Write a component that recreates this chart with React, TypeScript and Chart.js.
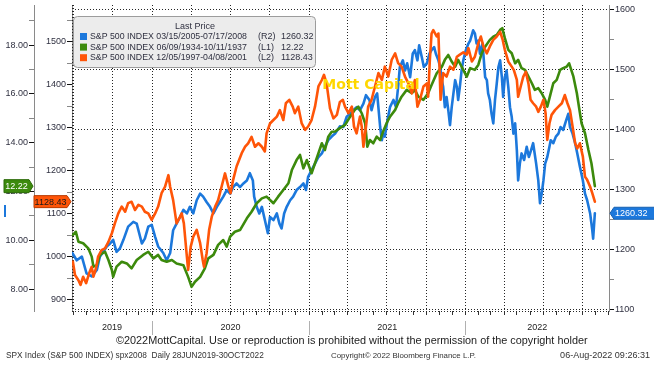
import React, { useEffect, useRef } from 'react';
import { Chart, registerables } from 'chart.js';

Chart.register(...registerables);

// x values are days since 28 Jun 2019 (start of the chart window)
const START_UTC = Date.UTC(2019, 5, 28);
const DAY_MS = 86400000;
const X_MAX_DAYS = 1253;

const seriesNames = [
  'S&P 500 INDEX 03/15/2005-07/17/2008',
  'S&P 500 INDEX 06/09/1934-10/11/1937',
  'S&P 500 INDEX 12/05/1997-04/08/2001',
];
const seriesAxes = ['(R2)', '(L1)', '(L2)'];
const seriesLast = ['1260.32', '12.22', '1128.43'];
const seriesColors = ['#1c78dc', '#3c8a0c', '#ff5508'];

const yearLabels = ['2019', '2020', '2021', '2022'];
const yearStarts = [2020, 2021, 2022, 2023];

const r2Ticks = [1100, 1150, 1200, 1250, 1300, 1350, 1400, 1450, 1500, 1550, 1600];
const l2Ticks = [900, 950, 1000, 1050, 1100, 1150, 1200, 1250, 1300, 1350, 1400, 1450, 1500, 1550];
const l1Ticks = [8, 9, 10, 11, 12, 13, 14, 15, 16, 17, 18, 19];

// Blue: S&P 500 2005-2008 (right axis R2)
const blueDays = [1,11,23,34,46,58,65,73,81,89,96,104,112,120,131,143,151,163,170,178,186,194,201,213,221,229,236,244,252,260,268,275,283,291,299,306,314,322,330,338,345,353,361,369,376,384,392,400,408,415,422,425,431,437,443,450,457,462,470,478,484,489,495,501,509,516,524,532,540,546,551,559,567,575,583,590,598,606,614,625,633,641,649,656,664,672,680,686,694,699,707,712,719,723,726,730,736,742,750,756,761,765,772,777,782,789,795,800,806,810,816,821,828,834,839,845,849,855,859,863,866,870,874,878,882,886,890,894,898,901,905,909,913,919,925,929,936,940,944,948,952,958,964,968,971,975,979,983,987,991,995,999,1003,1006,1010,1014,1018,1022,1026,1030,1034,1038,1041,1045,1049,1055,1061,1066,1071,1076,1083,1088,1092,1096,1100,1104,1109,1114,1117,1123,1129,1135,1140,1146,1153,1158,1162,1168,1174,1179,1185,1192,1197,1202,1209,1214,1216,1220];
const blueValues = [1194,1182,1188,1160,1155,1166,1188,1196,1205,1210,1216,1196,1202,1216,1238,1246,1243,1210,1218,1238,1241,1221,1205,1194,1182,1194,1232,1243,1254,1266,1260,1271,1260,1282,1293,1288,1279,1271,1260,1271,1279,1288,1299,1293,1304,1310,1304,1310,1315,1327,1315,1288,1271,1260,1271,1249,1227,1254,1249,1260,1243,1235,1260,1271,1282,1288,1299,1304,1310,1299,1321,1332,1343,1354,1360,1371,1382,1388,1393,1405,1404,1421,1426,1432,1437,1432,1443,1457,1449,1432,1454,1460,1404,1382,1393,1388,1415,1437,1449,1437,1471,1504,1515,1498,1510,1487,1526,1532,1515,1540,1521,1504,1510,1526,1532,1537,1526,1515,1504,1482,1471,1437,1454,1432,1407,1437,1460,1482,1471,1449,1471,1498,1515,1532,1543,1548,1565,1560,1543,1548,1526,1543,1487,1482,1460,1449,1426,1410,1449,1476,1504,1515,1487,1454,1487,1498,1471,1437,1421,1393,1410,1365,1315,1343,1360,1349,1371,1354,1365,1377,1343,1315,1277,1293,1315,1343,1354,1371,1382,1377,1388,1393,1404,1399,1415,1426,1404,1393,1377,1360,1338,1315,1293,1282,1260,1232,1218,1260.32];

// Green: S&P 500 1934-1937 (left axis L1)
const greenDays = [2,9,15,26,38,46,50,58,65,77,85,93,96,104,116,128,139,151,166,178,190,201,209,221,233,244,260,271,279,287,299,310,318,330,341,353,361,369,380,392,408,419,431,443,454,470,481,493,505,513,524,532,540,548,559,567,575,583,590,598,606,614,625,637,649,660,668,676,684,689,695,703,711,719,726,734,742,754,761,769,781,793,800,808,820,831,839,851,863,870,878,886,894,901,905,913,921,929,940,948,956,964,975,983,991,999,1004,1010,1018,1026,1034,1041,1049,1057,1065,1073,1080,1088,1096,1104,1109,1115,1123,1131,1139,1146,1154,1160,1170,1178,1184,1189,1197,1205,1212,1220];
const greenValues = [10.22,10.35,9.94,9.88,9.67,9.33,8.92,8.98,9.40,9.53,9.19,8.78,8.50,8.92,9.12,9.05,8.85,9.19,9.40,9.53,9.26,9.40,9.19,9.12,9.19,9.05,8.98,8.50,8.09,8.30,8.50,8.85,9.26,9.40,9.81,10.01,9.74,10.15,10.35,10.42,10.90,11.17,11.52,11.72,11.79,11.52,11.79,12.06,12.34,12.88,13.29,13.50,12.95,13.29,12.75,13.16,13.57,13.98,13.70,14.25,14.45,14.46,14.60,14.73,15.07,15.35,15.48,15.21,14.80,13.84,14.11,13.98,14.25,14.11,14.46,14.80,15.07,15.35,15.62,15.89,16.17,16.03,16.17,15.89,15.76,16.03,16.37,16.85,17.12,17.40,17.60,17.33,17.12,17.40,17.26,16.99,16.71,17.06,16.99,17.19,17.67,17.94,18.22,18.35,18.42,18.63,18.70,18.29,17.81,17.67,17.26,17.40,17.06,16.99,16.71,16.44,16.17,16.24,16.03,15.76,15.48,15.89,16.44,16.58,16.99,17.06,17.12,17.26,16.71,16.03,15.35,14.80,14.39,13.70,13.16,12.22];

// Orange: S&P 500 1997-2001 (left axis L2)
const orangeDays = [2,7,15,20,26,33,40,46,50,56,61,69,77,85,93,100,108,116,124,131,139,147,155,163,170,178,186,194,201,209,217,225,229,236,244,252,256,261,268,271,277,283,291,299,305,308,314,320,326,334,341,349,357,365,370,376,384,396,404,411,419,427,435,443,450,454,462,470,478,485,493,499,507,515,520,528,536,544,551,559,567,575,583,588,594,602,610,618,625,632,637,645,653,658,664,672,676,680,686,691,699,707,715,723,730,738,746,754,761,769,777,785,793,800,806,812,820,828,831,835,839,843,851,855,860,866,874,882,890,898,905,913,921,925,933,940,948,954,960,968,975,983,991,999,1005,1010,1018,1026,1031,1038,1041,1047,1053,1059,1065,1070,1076,1083,1088,1094,1100,1105,1109,1114,1119,1127,1135,1143,1150,1156,1162,1168,1174,1179,1185,1192,1197,1202,1209,1214,1220];
const orangeValues = [989,958,946,935,954,939,962,977,954,974,1001,1016,1020,1035,1055,1078,1101,1117,1105,1125,1128,1109,1121,1117,1105,1101,1086,1101,1117,1148,1163,1190,1163,1132,1078,1093,1101,1078,1001,970,1024,1047,1063,1032,993,977,1008,1063,1093,1117,1132,1163,1194,1163,1148,1179,1210,1241,1256,1264,1279,1256,1264,1256,1245,1287,1310,1318,1326,1341,1318,1357,1365,1349,1334,1349,1310,1295,1303,1318,1349,1396,1411,1423,1403,1345,1322,1330,1360,1365,1349,1334,1349,1303,1287,1326,1303,1256,1303,1349,1365,1396,1427,1411,1442,1419,1458,1473,1450,1442,1419,1403,1380,1411,1349,1365,1396,1403,1372,1458,1519,1527,1512,1519,1365,1427,1419,1442,1435,1465,1470,1475,1470,1485,1454,1465,1496,1512,1489,1473,1489,1504,1512,1523,1504,1481,1454,1442,1434,1411,1372,1396,1419,1430,1403,1365,1357,1349,1337,1349,1365,1334,1272,1310,1330,1341,1349,1357,1376,1357,1341,1303,1264,1252,1264,1233,1186,1179,1163,1148,1128.43];

const monthTicks: number[] = [];
const quarterTicks = new Set<number>();
for (let y = 2019; y <= 2023; y++) {
  for (let m = 0; m < 12; m++) {
    const d = (Date.UTC(y, m, 1) - START_UTC) / DAY_MS;
    if (d >= 0 && d <= X_MAX_DAYS) {
      monthTicks.push(d);
      if (m % 3 === 0) quarterTicks.add(d);
    }
  }
}

const FONT = '"Liberation Sans", Arial, sans-serif';
const TEXT = '#2f3040';
const GRID = '#262626';

function toPoints(xs: number[], ys: number[]) {
  return xs.map((x, i) => ({ x, y: ys[i] }));
}

function yAxis(position: string, min: number, max: number, ticks: number[], width: number, weight: number,
  label: (v: number) => string, isMajor: (v: number) => boolean, gridOn: boolean) {
  return {
    type: 'linear',
    position,
    min,
    max,
    weight,
    afterBuildTicks: (s: any) => { s.ticks = ticks.map((v) => ({ value: v })); },
    afterFit: (s: any) => { s.width = width; s.paddingTop = 0; s.paddingBottom = 0; },
    ticks: {
      autoSkip: false,
      padding: 1,
      color: TEXT,
      font: { family: FONT, size: 9 },
      callback: (v: any) => label(Number(v)),
    },
    grid: {
      drawOnChartArea: gridOn,
      lineWidth: 1,
      color: (c: any) => (c.tick && isMajor(c.tick.value) ? GRID : 'rgba(0,0,0,0)'),
      tickColor: (c: any) => (c.tick && isMajor(c.tick.value) ? '#111' : '#888'),
      tickLength: 5,
      tickWidth: 1,
    },
    border: { display: true, color: '#8a8a8a', width: 1, dash: [1, 2] },
  };
}

function fitText(ctx: CanvasRenderingContext2D, text: string, x: number, y: number, w: number, weight: string, align: CanvasTextAlign) {
  ctx.font = `${weight} 10px ${FONT}`;
  const mw = ctx.measureText(text).width;
  const size = (10 * w) / mw;
  ctx.font = `${weight} ${size.toFixed(2)}px ${FONT}`;
  ctx.textAlign = align;
  ctx.fillText(text, x, y);
}

function drawTag(ctx: CanvasRenderingContext2D, text: string, tipX: number, y: number, dir: number,
  bodyW: number, h: number, bg: string, fg: string, stroke: string) {
  ctx.save();
  ctx.beginPath();
  if (dir > 0) {
    const x2 = tipX - 4;
    const x1 = x2 - bodyW;
    ctx.moveTo(x1, y - h / 2);
    ctx.lineTo(x2, y - h / 2);
    ctx.lineTo(tipX, y);
    ctx.lineTo(x2, y + h / 2);
    ctx.lineTo(x1, y + h / 2);
    ctx.closePath();
    ctx.fillStyle = bg;
    ctx.fill();
    ctx.strokeStyle = stroke;
    ctx.lineWidth = 1;
    ctx.stroke();
    ctx.fillStyle = fg;
    ctx.font = `9px ${FONT}`;
    ctx.textAlign = 'center';
    ctx.textBaseline = 'middle';
    ctx.fillText(text, (x1 + x2) / 2, y + 0.5);
  } else {
    const x1 = tipX + 4;
    const x2 = x1 + bodyW;
    ctx.moveTo(x2, y - h / 2);
    ctx.lineTo(x1, y - h / 2);
    ctx.lineTo(tipX, y);
    ctx.lineTo(x1, y + h / 2);
    ctx.lineTo(x2, y + h / 2);
    ctx.closePath();
    ctx.fillStyle = bg;
    ctx.fill();
    ctx.strokeStyle = stroke;
    ctx.lineWidth = 1;
    ctx.stroke();
    ctx.fillStyle = fg;
    ctx.font = `9px ${FONT}`;
    ctx.textAlign = 'left';
    ctx.textBaseline = 'middle';
    ctx.fillText(text, x1 + 1, y + 0.5);
  }
  ctx.restore();
}

const overlayPlugin = {
  id: 'overlay',
  beforeDatasetsDraw(chart: any) {
    const { ctx, chartArea } = chart;
    ctx.save();
    ctx.strokeStyle = GRID;
    ctx.setLineDash([1, 2]);
    ctx.lineWidth = 1;
    ctx.beginPath();
    ctx.moveTo(Math.round(chartArea.left) + 0.5, chartArea.top);
    ctx.lineTo(Math.round(chartArea.left) + 0.5, chartArea.bottom);
    ctx.moveTo(chartArea.left, Math.round(chartArea.bottom) + 0.5);
    ctx.lineTo(chartArea.right, Math.round(chartArea.bottom) + 0.5);
    ctx.stroke();
    ctx.restore();
  },
  afterDraw(chart: any) {
    const { ctx, chartArea, scales } = chart;
    ctx.save();

    // watermark
    ctx.font = `bold 14px "DejaVu Sans", ${FONT}`;
    ctx.fillStyle = '#ffd700';
    ctx.textAlign = 'center';
    ctx.textBaseline = 'middle';
    ctx.fillText('Mott Capital', 371, 85);

    // legend box
    const lx = 73.5, ly = 16.5, lw = 242, lh = 51, r = 4;
    ctx.beginPath();
    ctx.moveTo(lx + r, ly);
    ctx.arcTo(lx + lw, ly, lx + lw, ly + lh, r);
    ctx.arcTo(lx + lw, ly + lh, lx, ly + lh, r);
    ctx.arcTo(lx, ly + lh, lx, ly, r);
    ctx.arcTo(lx, ly, lx + lw, ly, r);
    ctx.closePath();
    ctx.fillStyle = '#ececec';
    ctx.fill();
    ctx.strokeStyle = '#9c9c9c';
    ctx.lineWidth = 1;
    ctx.stroke();
    ctx.fillStyle = TEXT;
    ctx.textBaseline = 'middle';
    ctx.font = `9px ${FONT}`;
    ctx.textAlign = 'center';
    ctx.fillText('Last Price', 195, 27);
    for (let i = 0; i < seriesNames.length; i++) {
      const y = 36.5 + i * 10.6;
      ctx.fillStyle = seriesColors[i];
      ctx.fillRect(80, y - 3.5, 7, 7);
      ctx.fillStyle = TEXT;
      fitText(ctx, seriesNames[i], 90, y, 157, '', 'left');
      ctx.font = `9px ${FONT}`;
      ctx.textAlign = 'left';
      ctx.fillText(seriesAxes[i], 258, y);
      ctx.fillText(seriesLast[i], 281, y);
    }

    // x axis year separators and labels
    const xs = scales.x;
    const bounds = [chartArea.left, ...yearStarts.map((y) => xs.getPixelForValue((Date.UTC(y, 0, 1) - START_UTC) / DAY_MS))];
    ctx.strokeStyle = '#b0b0b0';
    ctx.lineWidth = 1;
    for (let i = 1; i < bounds.length; i++) {
      const bx = bounds[i];
      if (bx < chartArea.right) {
        ctx.beginPath();
        ctx.moveTo(Math.round(bx) + 0.5, 321);
        ctx.lineTo(Math.round(bx) + 0.5, 335);
        ctx.stroke();
      }
    }
    ctx.fillStyle = '#222';
    ctx.font = `9px ${FONT}`;
    ctx.textAlign = 'center';
    ctx.textBaseline = 'middle';
    for (let i = 0; i < yearLabels.length; i++) {
      const a = Math.max(bounds[i], chartArea.left);
      const b = Math.min(bounds[i + 1], chartArea.right);
      ctx.fillText(yearLabels[i], (a + b) / 2, 328);
    }

    // copyright and footer
    ctx.fillStyle = '#222';
    ctx.textBaseline = 'middle';
    fitText(ctx, '\u00a92022MottCapital. Use or reproduction is prohibited without the permission of the copyright holder', 116, 341, 472, '', 'left');
    ctx.fillStyle = '#333';
    fitText(ctx, 'SPX Index (S&P 500 INDEX) spx2008  Daily 28JUN2019-30OCT2022', 6, 356, 258, '', 'left');
    fitText(ctx, 'Copyright\u00a9 2022 Bloomberg Finance L.P.', 331, 356, 145, '', 'left');
    fitText(ctx, '06-Aug-2022 09:26:31', 650, 356, 90, '', 'right');

    // last value tags
    drawTag(ctx, seriesLast[1], 33, scales.l1.getPixelForValue(greenValues[greenValues.length - 1]), 1, 25, 13, '#3c8a0c', '#ffffff', '#2a6a06');
    drawTag(ctx, seriesLast[2], 71, scales.l2.getPixelForValue(orangeValues[orangeValues.length - 1]), 1, 33, 12, '#ff5508', '#1a1a1a', '#b83a00');
    drawTag(ctx, seriesLast[0], 610, scales.r2.getPixelForValue(blueValues[blueValues.length - 1]), -1, 44, 12, '#1c78dc', '#ffffff', '#1660b0');
    ctx.fillStyle = '#1c78dc';
    ctx.fillRect(4, 205, 2, 12);

    ctx.restore();
  },
};

export default function App() {
  const ref = useRef<HTMLCanvasElement | null>(null);

  useEffect(() => {
    const canvas = ref.current;
    if (!canvas) return;
    const common = { borderWidth: 2.6, pointRadius: 0, tension: 0 };
    const chart = new Chart(canvas, {
      type: 'line',
      data: {
        datasets: [
          { ...common, label: seriesNames[0], data: toPoints(blueDays, blueValues), yAxisID: 'r2', borderColor: seriesColors[0], order: 3 },
          { ...common, label: seriesNames[1], data: toPoints(greenDays, greenValues), yAxisID: 'l1', borderColor: seriesColors[1], order: 2 },
          { ...common, label: seriesNames[2], data: toPoints(orangeDays, orangeValues), yAxisID: 'l2', borderColor: seriesColors[2], order: 1 },
        ],
      },
      options: {
        responsive: false,
        devicePixelRatio: 1,
        animation: false,
        events: [],
        layout: { padding: { top: 5, left: 0, right: 0, bottom: 0 } },
        plugins: { legend: { display: false }, tooltip: { enabled: false } },
        elements: { line: { borderJoinStyle: 'round', borderCapStyle: 'round' } },
        scales: {
          x: {
            type: 'linear',
            min: 0,
            max: X_MAX_DAYS,
            afterBuildTicks: (s: any) => { s.ticks = monthTicks.map((v) => ({ value: v })); },
            afterFit: (s: any) => { s.height = 54; s.paddingLeft = 0; s.paddingRight = 0; },
            ticks: { autoSkip: false, maxRotation: 0, callback: () => '' },
            grid: {
              lineWidth: 1,
              color: (c: any) => (c.tick && quarterTicks.has(c.tick.value) ? GRID : 'rgba(0,0,0,0)'),
              tickColor: '#333',
              tickLength: 4,
            },
            border: { display: false, dash: [1, 2] },
          },
          r2: yAxis('right', 1097.5, 1607.2, r2Ticks, 45, 0, (v) => (v % 100 === 0 ? String(v) : ''), (v) => v % 100 === 0, true),
          l2: yAxis('left', 874.4, 1585.2, l2Ticks, 38, 0, (v) => (v % 100 === 0 ? String(v) : ''), (v) => v % 100 === 0, false),
          l1: yAxis('left', 7.1, 19.65, l1Ticks, 34, 1, (v) => (v % 2 === 0 ? v.toFixed(2) : ''), (v) => v % 2 === 0, false),
        } as any,
      },
      plugins: [overlayPlugin],
    } as any);
    return () => chart.destroy();
  }, []);

  return (
    <div style={{ position: 'fixed', left: 0, top: 0, width: 654, height: 365, background: '#ffffff' }}>
      <canvas ref={ref} width={654} height={365} style={{ display: 'block' }} />
    </div>
  );
}
